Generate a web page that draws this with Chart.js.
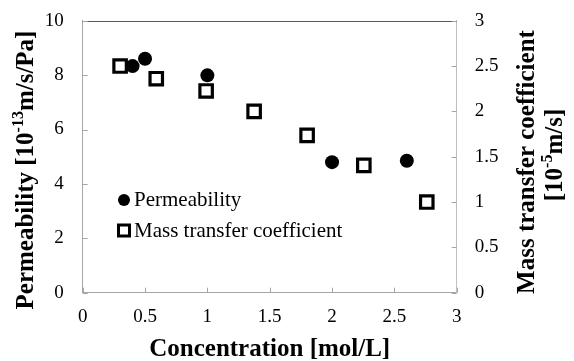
<!DOCTYPE html>
<html>
<head>
<meta charset="utf-8">
<script src="https://cdn.jsdelivr.net/npm/chart.js@4.4.1/dist/chart.umd.min.js"></script>
<style>
html,body{margin:0;padding:0;background:#fff;}
#wrap{width:574px;height:361px;position:relative;}
</style>
</head>
<body>
<div id="wrap"><canvas id="c" width="574" height="361"></canvas></div>
<script>
const permX = [0.4, 0.5, 1.0, 2.0, 2.6];
const permY = [8.33, 8.6, 7.99, 4.8, 4.85];
const mtcX = [0.3, 0.59, 0.99, 1.375, 1.8, 2.255, 2.76];
const mtcY = [2.5, 2.36, 2.225, 2.0, 1.735, 1.405, 1.0];
const xTicks = [0, 0.5, 1, 1.5, 2, 2.5, 3];
const yTicks = [0, 2, 4, 6, 8, 10];
const y2Ticks = [0, 0.5, 1, 1.5, 2, 2.5, 3];
const legendLabels = ['Permeability', 'Mass transfer coefficient'];
const xTitle = 'Concentration [mol/L]';

const FONT = '"Liberation Serif", "Times New Roman", serif';

const decor = {
  id: 'decor',
  afterDraw(chart) {
    const ctx = chart.ctx;
    const a = chart.chartArea;
    const sx = chart.scales.x, sy = chart.scales.y, sy2 = chart.scales.y2;
    ctx.save();
    ctx.strokeStyle = '#595959';
    ctx.lineWidth = 1;
    ctx.beginPath();
    ctx.moveTo(a.left, Math.round(a.top) + 0.5);
    ctx.lineTo(a.right, Math.round(a.top) + 0.5);
    ctx.stroke();
    ctx.strokeStyle = '#a6a6a6';
    ctx.beginPath();
    xTicks.forEach(v => {
      const px = Math.round(sx.getPixelForValue(v)) + 0.5;
      ctx.moveTo(px, a.bottom);
      ctx.lineTo(px, a.bottom - 5);
    });
    yTicks.forEach(v => {
      const py = Math.round(sy.getPixelForValue(v)) + 0.5;
      ctx.moveTo(a.left, py);
      ctx.lineTo(a.left + 5, py);
    });
    y2Ticks.forEach(v => {
      const py = Math.round(sy2.getPixelForValue(v)) + 0.5;
      ctx.moveTo(a.right, py);
      ctx.lineTo(a.right - 5, py);
    });
    ctx.stroke();

    // legend
    ctx.fillStyle = '#000';
    ctx.beginPath();
    ctx.arc(124, 200, 6, 0, Math.PI * 2);
    ctx.fill();
    ctx.strokeStyle = '#000';
    ctx.lineWidth = 3;
    ctx.fillStyle = '#fff';
    ctx.fillRect(118.5, 225, 11, 11);
    ctx.strokeRect(118.5, 225, 11, 11);
    ctx.fillStyle = '#000';
    ctx.font = '21px ' + FONT;
    ctx.textAlign = 'left';
    ctx.textBaseline = 'alphabetic';
    ctx.fillText(legendLabels[0], 134, 206);
    ctx.fillText(legendLabels[1], 134, 237);

    ctx.font = 'bold 25px ' + FONT;
    ctx.textAlign = 'center';
    ctx.fillText(xTitle, (a.left + a.right) / 2, 356);

    function rich(parts, cx, cy, rot) {
      ctx.save();
      ctx.translate(cx, cy);
      ctx.rotate(rot);
      let w = 0;
      parts.forEach(p => { ctx.font = p.f; p.w = ctx.measureText(p.t).width; w += p.w; });
      let x = -w / 2;
      ctx.textAlign = 'left';
      parts.forEach(p => { ctx.font = p.f; ctx.fillText(p.t, x, p.dy); x += p.w; });
      ctx.restore();
    }
    const B = 'bold 25px ' + FONT, S = 'bold 16px ' + FONT;
    rich([
      {t: 'Permeability [10', f: B, dy: 8},
      {t: '-13', f: S, dy: -2},
      {t: 'm/s/Pa]', f: B, dy: 8}
    ], 25, 170, -Math.PI / 2);
    rich([{t: 'Mass transfer coefficient', f: B, dy: 8}], 526, 162, -Math.PI / 2);
    rich([
      {t: '[10', f: B, dy: 8},
      {t: '-5', f: S, dy: -2},
      {t: 'm/s]', f: B, dy: 8}
    ], 554, 155, -Math.PI / 2);
    ctx.restore();
  }
};

function noPad(s) { s.paddingTop = 0; s.paddingBottom = 0; s.paddingLeft = 0; s.paddingRight = 0; }

new Chart(document.getElementById('c'), {
  type: 'scatter',
  data: {
    datasets: [
      {
        label: legendLabels[0],
        data: permX.map((x, i) => ({x, y: permY[i]})),
        yAxisID: 'y',
        pointStyle: 'circle',
        pointRadius: 7,
        pointHoverRadius: 7,
        backgroundColor: '#000',
        borderColor: '#000',
        borderWidth: 0
      },
      {
        label: legendLabels[1],
        data: mtcX.map((x, i) => ({x, y: mtcY[i]})),
        yAxisID: 'y2',
        pointStyle: 'rect',
        pointRadius: 8.8,
        pointHoverRadius: 8.8,
        backgroundColor: '#fff',
        borderColor: '#000',
        borderWidth: 3.2
      }
    ]
  },
  options: {
    responsive: false,
    animation: false,
    events: [],
    layout: {padding: {top: 20.7, left: 0, right: 0, bottom: 0}},
    plugins: {legend: {display: false}, tooltip: {enabled: false}},
    scales: {
      x: {
        type: 'linear', min: 0, max: 3,
        afterBuildTicks: s => { s.ticks = xTicks.map(v => ({value: v})); },
        afterFit: s => { s.height = 361 - 292.7; noPad(s); },
        grid: {display: false, drawTicks: false},
        border: {display: true, color: '#a6a6a6'},
        ticks: {padding: 13, color: '#000', font: {family: FONT, size: 19}, maxRotation: 0, autoSkip: false,
                callback: v => String(v)}
      },
      y: {
        type: 'linear', position: 'left', min: 0, max: 10,
        afterBuildTicks: s => { s.ticks = yTicks.map(v => ({value: v})); },
        afterFit: s => { s.width = 82.7; noPad(s); },
        grid: {display: false, drawTicks: false},
        border: {display: true, color: '#a6a6a6'},
        ticks: {padding: 19, color: '#000', font: {family: FONT, size: 19}, callback: v => String(v)}
      },
      y2: {
        type: 'linear', position: 'right', min: 0, max: 3,
        afterBuildTicks: s => { s.ticks = y2Ticks.map(v => ({value: v})); },
        afterFit: s => { s.width = 574 - 456.7; noPad(s); },
        grid: {display: false, drawTicks: false},
        border: {display: true, color: '#bfbfbf'},
        ticks: {padding: 18, color: '#000', font: {family: FONT, size: 19}, callback: v => String(v)}
      }
    }
  },
  plugins: [decor]
});
</script>
</body>
</html>
